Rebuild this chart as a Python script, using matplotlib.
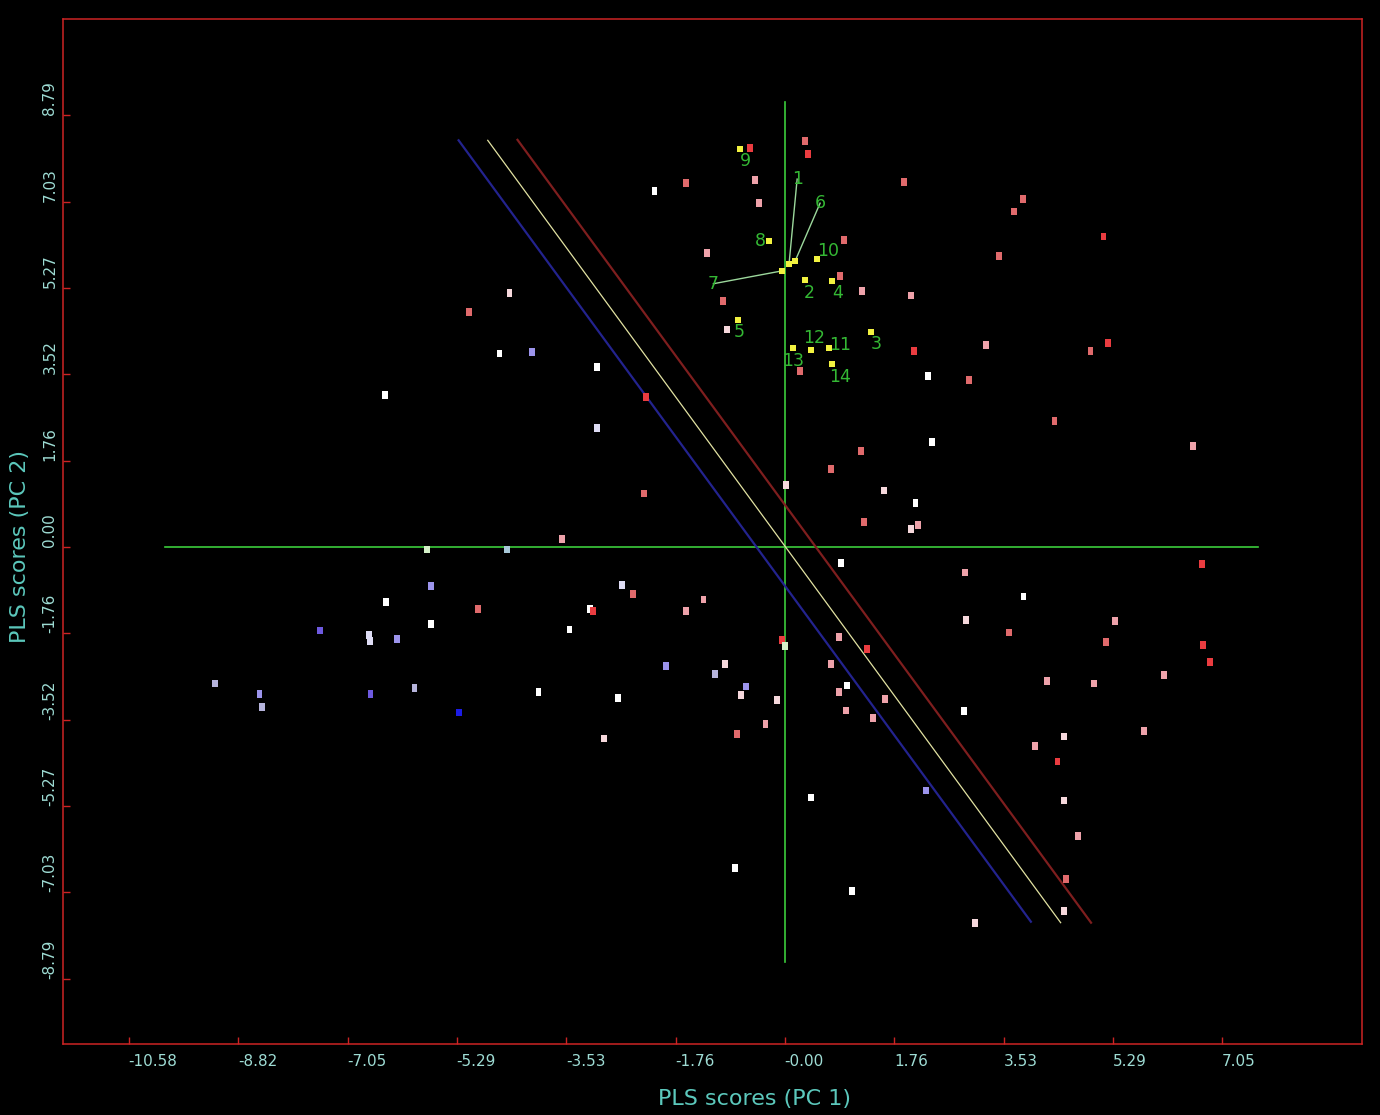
import numpy as np
import matplotlib
matplotlib.use("Agg")
import matplotlib.pyplot as plt

# ── PLS score plot (PC1 vs PC2) ─────────────────────────────
TICK_FONT = ["DejaVu Sans"]

# sample scores, grouped by response class
score_x = [-4.44, -5.09, -4.60, -4.07, -3.03, -6.45, -2.24, -3.03, -2.27, -3.59,
           -5.77, -4.48, -5.71, -2.63, -2.45, -6.43, -4.95, -3.14, -3.09, -5.70,
           -3.47, -7.49, -6.70, -6.69, -6.25, -9.19, -8.47, -8.43, -6.68, -5.97,
           -5.25, -3.97, -2.69, -2.91, -1.91,
           0.91, 2.91, -1.31, -1.59, 2.92, 0.88, -0.05, 0.00, 1.33, -0.97,
           0.75, -1.12, -0.62, -0.70, -0.13, 1.00, 0.87, 1.62, 2.89, 0.99,
           1.43, -0.31, -0.77, 2.28, 0.43, -0.80, 1.08, 3.07,
           6.73, 3.85, 3.62, 5.32, 5.18, 6.74, 6.86, 6.11, 4.23, 4.99,
           5.79, 4.50, 4.04, 4.40, 4.51, 4.73, 4.54, 4.50,
           -0.56, 0.33, 0.38, -1.59, -2.10, -0.48, -0.42, 1.93, 0.96, -1.25,
           0.89, 1.24, 2.03, 3.45, -0.99, -0.93, 0.24, 2.08, 3.25, 2.31,
           2.97, 2.37, 1.23, 0.74, 0.02, 1.60, 2.11, 1.28, 2.03, 2.15,
           3.84, 3.70, 5.14, 4.93, 5.22, 4.35, 6.59]
score_y = [5.17, 4.78, 3.94, 3.97, 3.67, 3.09, 3.05, 2.42, 1.09, 0.17,
           -0.05, -0.05, -0.79, -0.78, -0.96, -1.12, -1.26, -1.26, -1.30, -1.57,
           -1.68, -1.70, -1.79, -1.91, -1.88, -2.78, -2.99, -3.26, -2.99, -2.87,
           -3.37, -2.95, -3.08, -3.90, -2.43,
           -0.33, -0.52, -1.07, -1.30, -1.49, -1.83, -1.89, -2.02, -2.08, -2.38,
           -2.38, -2.59, -2.84, -3.01, -3.11, -2.82, -2.95, -3.10, -3.34, -3.33,
           -3.48, -3.61, -3.81, -4.96, -5.10, -6.53, -7.01, -7.66,
           -0.35, -1.01, -1.74, -1.51, -1.93, -2.00, -2.34, -2.61, -2.73, -2.78,
           -3.75, -3.86, -4.06, -4.37, -5.16, -5.89, -6.76, -7.41,
           8.13, 8.27, 8.00, 7.41, 7.25, 7.47, 7.01, 7.43, 6.25, 5.99,
           5.51, 5.21, 5.12, 5.93, 5.01, 4.43, 3.58, 3.99, 4.11, 3.48,
           3.40, 2.14, 1.95, 1.59, 1.26, 1.15, 0.89, 0.51, 0.37, 0.44,
           7.08, 6.83, 6.32, 3.99, 4.15, 2.57, 2.06]
score_grp = ["Q", "S", "W", "V", "W", "W", "R", "L", "S", "P",
             "E", "F", "V", "L", "S", "W", "S", "W", "R", "W",
             "W", "I", "L", "L", "V", "G", "V", "G", "I", "G",
             "B", "W", "W", "Q", "V",
             "W", "P", "P", "P", "Q", "P", "R", "E", "R", "Q",
             "P", "G", "V", "Q", "Q", "W", "P", "P", "W", "P",
             "P", "P", "S", "V", "W", "W", "W", "Q",
             "R", "W", "S", "P", "S", "R", "R", "P", "P", "P",
             "P", "Q", "P", "R", "Q", "P", "S", "Q",
             "R", "S", "R", "S", "W", "P", "P", "S", "S", "P",
             "S", "P", "P", "S", "S", "Q", "S", "R", "P", "W",
             "S", "W", "S", "S", "Q", "Q", "W", "S", "Q", "P",
             "S", "S", "R", "S", "R", "S", "P"]
grp_color = {"R": "#ea3c40", "S": "#e06a6c", "P": "#eea2aa", "Q": "#f6d8dc",
             "W": "#ffffff", "L": "#dedcf4", "G": "#b6b4dc", "V": "#9c94ec",
             "I": "#6e5ae0", "B": "#1c1ce6", "E": "#d4f0c8", "F": "#a8c8d8"}

# numbered calibration samples
num_ids = ["1", "2", "3", "4", "5", "6", "7", "8", "9", "10", "11", "12", "13", "14"]
num_x = [0.07, 0.32, 1.39, 0.76, -0.76, 0.17, -0.05, -0.25, -0.72, 0.52, 0.72, 0.42, 0.14, 0.76]
num_y = [5.77, 5.44, 4.37, 5.41, 4.62, 5.83, 5.62, 6.22, 8.11, 5.87, 4.05, 4.01, 4.05, 3.72]
lab_x = [0.20, 0.40, 1.47, 0.85, -0.74, 0.57, -1.15, -0.40, -0.64, 0.70, 0.90, 0.48, 0.13, 0.89]
lab_y = [7.49, 5.18, 4.13, 5.18, 4.38, 7.00, 5.36, 6.22, 7.86, 6.03, 4.11, 4.25, 3.79, 3.46]
leader_ids = ["1", "6", "7"]

# class boundaries (blue / mid / red)
bound_x0 = [-5.26, -4.79, -4.31]
bound_y0 = [8.28, 8.28, 8.29]
bound_x1 = [3.97, 4.45, 4.94]
bound_y1 = [-7.63, -7.65, -7.65]

# axis cross lines
hline_x = [-9.99, 7.64]
vline_y = [-8.45, 9.06]

x_ticks = [-10.58, -8.82, -7.05, -5.29, -3.53, -1.76, -0.00, 1.76, 3.53, 5.29, 7.05]
x_labels = ["-10.58", "-8.82", "-7.05", "-5.29", "-3.53", "-1.76", "-0.00",
            "1.76", "3.53", "5.29", "7.05"]
y_ticks = [-8.79, -7.03, -5.27, -3.52, -1.76, 0.00, 1.76, 3.52, 5.27, 7.03, 8.79]
y_labels = ["-8.79", "-7.03", "-5.27", "-3.52", "-1.76", "0.00", "1.76",
            "3.52", "5.27", "7.03", "8.79"]

FRAME = "#cc2424"
TEXT = "#9edcd4"
GREEN = "#34b834"

fig = plt.figure(figsize=(13.8, 11.15), dpi=100, facecolor="black")
ax = fig.add_axes([63 / 1380, 71 / 1115, 1299 / 1380, 1025 / 1115])
ax.set_facecolor("black")
ax.set_xlim(-11.64, 9.31)
ax.set_ylim(-10.12, 10.75)

for s in ax.spines.values():
    s.set_color(FRAME)
    s.set_linewidth(1.1)

# cross lines through the origin
ax.plot(hline_x, [0, 0], color="#3ccc3c", lw=1.2, zorder=1)
ax.plot([0, 0], vline_y, color="#3ccc3c", lw=1.2, zorder=1)

bound_cols = ["#23238e", "#e2e2a2", "#7e1e1e"]
bound_lw = [1.6, 0.9, 1.6]
for i in range(3):
    ax.plot([bound_x0[i], bound_x1[i]], [bound_y0[i], bound_y1[i]],
            color=bound_cols[i], lw=bound_lw[i], zorder=2)

rect = [(-0.75, -1), (0.75, -1), (0.75, 1), (-0.75, 1), (-0.75, -1)]
cols = [grp_color[g] for g in score_grp]
ax.scatter(score_x, score_y, marker=rect, s=5.6 ** 2, c=cols, linewidths=0, zorder=3)

# numbered samples with labels, a few with leader lines
ax.scatter(num_x, num_y, marker="s", s=4.2 ** 2, c="#f2f240", linewidths=0, zorder=4)
for i, lab in enumerate(num_ids):
    if lab in leader_ids:
        ax.plot([num_x[i], lab_x[i]], [num_y[i], lab_y[i]], color="#9cd89c", lw=1.0, zorder=3)
    ax.text(lab_x[i], lab_y[i], lab, color=GREEN, fontsize=12.5, ha="center", va="center",
            family="DejaVu Sans", zorder=5)

ax.set_xticks(x_ticks)
ax.set_xticklabels(x_labels, ha="left", family=TICK_FONT, fontsize=11, color=TEXT)
ax.set_yticks(y_ticks)
ax.set_yticklabels(y_labels, rotation=90, va="bottom", ha="right",
                   family=TICK_FONT, fontsize=11, color=TEXT)
ax.tick_params(axis="both", direction="in", length=5, width=1.0, color=FRAME)
ax.tick_params(axis="x", pad=7)
ax.tick_params(axis="y", pad=4)

ax.set_xlabel("PLS scores (PC 1)", family=TICK_FONT, fontsize=16, color="#5cc8bc",
              ha="center", va="center")
ax.xaxis.set_label_coords(0.532, -0.054)
ax.set_ylabel("PLS scores (PC 2)", family=TICK_FONT, fontsize=16, color="#5cc8bc",
              ha="center", va="center")
ax.yaxis.set_label_coords(-0.033, 0.485)

fig.savefig("out.png", dpi=100, facecolor="black")
